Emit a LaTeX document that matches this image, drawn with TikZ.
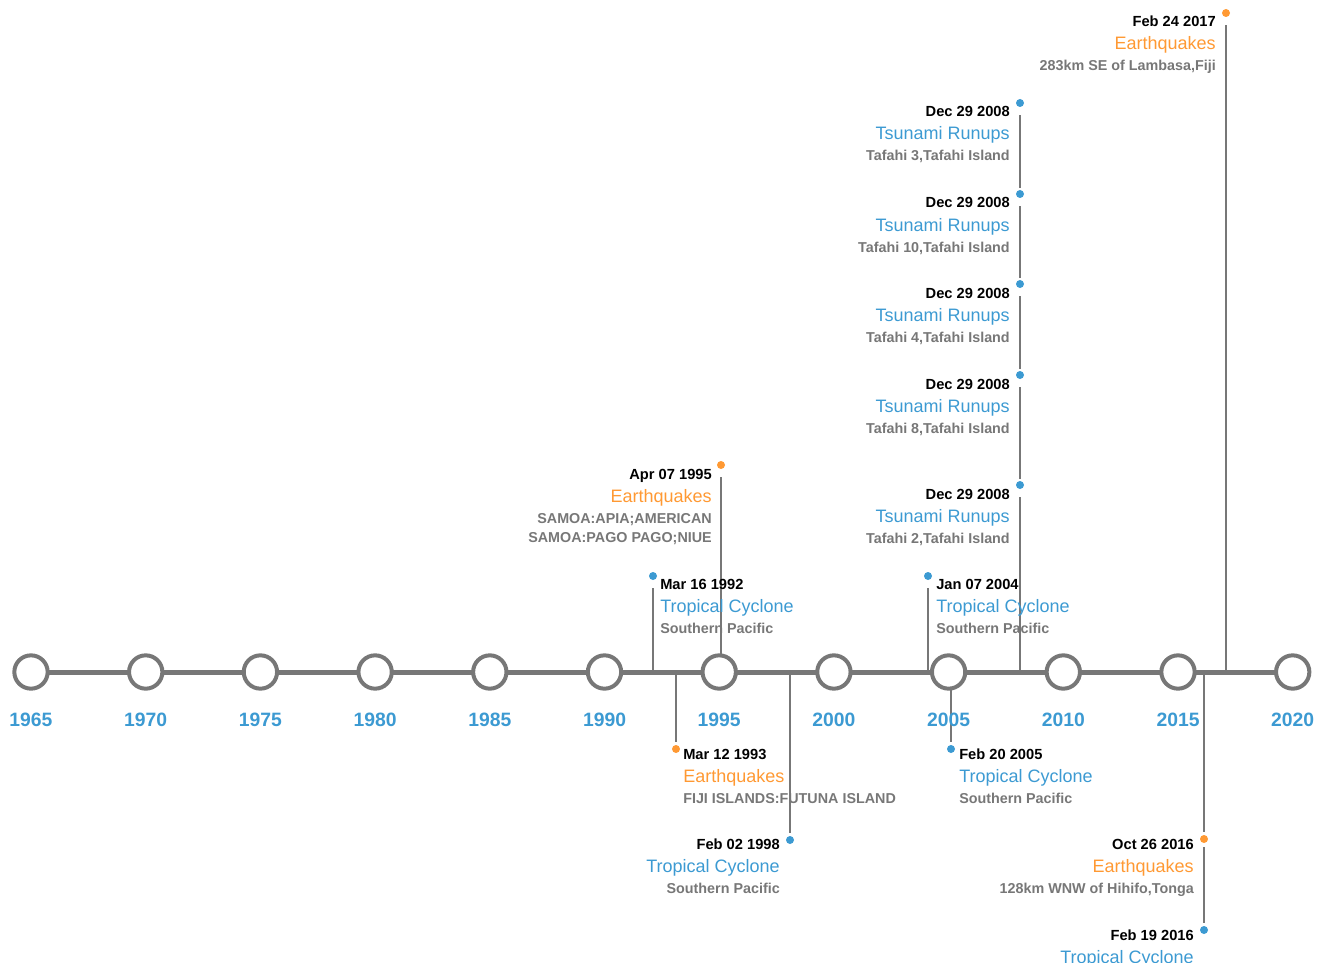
\documentclass[tikz,border=0pt]{standalone}
\usepackage{fontspec}
\setmainfont{Liberation Sans}
\usetikzlibrary{backgrounds}

\definecolor{grigio}{HTML}{777777}
\definecolor{blu}{HTML}{3C9AD2}
\definecolor{arancio}{HTML}{FF9933}

% evento: nome, x, base della data, lato (east/west), data, colore, titolo, luogo
\newcommand{\evento}[8]{%
	\node[data, anchor=base #4]             (#1d) at (#2,#3)    {#5};
	\node[titolo, text=#6, anchor=base #4]  (#1t) at (#2,#3+23) {#7};
	\node[sotto, anchor=base #4]            (#1s) at (#2,#3+44) {#8};
}

\begin{document}
\begin{tikzpicture}[x=0.75pt, y=-0.75pt]

%====Stili====================================================================

	\tikzstyle{tappa}=[circle, draw=grigio, line width=3pt, fill=white, minimum size=25pt, inner sep=0pt]
	\tikzstyle{asse}=[draw=grigio, line width=3.75pt]
	\tikzstyle{stelo}=[draw=grigio, line width=1.5pt]
	\tikzstyle{punto}=[circle, inner sep=0pt, minimum size=6pt]
	\tikzstyle{anno}=[font=\fontsize{14.5}{17}\selectfont\bfseries, text=blu]
	\tikzstyle{data}=[font=\fontsize{11}{13}\selectfont\bfseries, text=black, inner sep=0pt]
	\tikzstyle{titolo}=[font=\fontsize{13.5}{16}\selectfont, inner sep=0pt]
	\tikzstyle{sotto}=[font=\fontsize{10.75}{13}\selectfont\bfseries, text=grigio, inner sep=0pt]

	\useasboundingbox (0,0) rectangle (1317,963);

%====Asse degli anni===========================================================
	\foreach \a [count=\i from 0] in {1965,1970,...,2020}{
		\node[tappa] (y\a) at ({31+\i*114.7},672) {};
		\node[anno]  (l\a) at ({31+\i*114.7},720) {\a};
	}

%====Punti degli eventi========================================================
	\node[punto, fill=blu]     (r92) at (653,576)  {};
	\node[punto, fill=arancio] (e93) at (676,749)  {};
	\node[punto, fill=arancio] (e95) at (721,465)  {};
	\node[punto, fill=blu]     (c98) at (790,840)  {};
	\node[punto, fill=blu]     (c04) at (928,576)  {};
	\node[punto, fill=blu]     (c05) at (951,749)  {};
	\node[punto, fill=blu]     (t1)  at (1020,103) {};
	\node[punto, fill=blu]     (t2)  at (1020,194) {};
	\node[punto, fill=blu]     (t3)  at (1020,284) {};
	\node[punto, fill=blu]     (t4)  at (1020,375) {};
	\node[punto, fill=blu]     (t5)  at (1020,485) {};
	\node[punto, fill=arancio] (e16) at (1204,839) {};
	\node[punto, fill=blu]     (c16) at (1204,930) {};
	\node[punto, fill=arancio] (e17) at (1226,13)  {};

%====Steli e asse (sotto ai cerchi)============================================
	\begin{pgfonlayer}{background}
		\draw[stelo, shorten <=6pt]                 (r92) -- (r92 |- y1990);
		\draw[stelo, shorten >=2pt]                 (e93 |- y1990) -- (e93);
		\draw[stelo, shorten <=6pt]                 (e95) -- (e95 |- y1995);
		\draw[stelo, shorten >=2pt]                 (c98 |- y2000) -- (c98);
		\draw[stelo, shorten <=6pt]                 (c04) -- (c04 |- y2005);
		\draw[stelo, shorten >=2pt]                 (c05 |- y2005) -- (c05);
		\draw[stelo, shorten <=6pt, shorten >=1pt]  (t1) -- (t2);
		\draw[stelo, shorten <=6pt, shorten >=1pt]  (t2) -- (t3);
		\draw[stelo, shorten <=6pt, shorten >=1pt]  (t3) -- (t4);
		\draw[stelo, shorten <=6pt, shorten >=1pt]  (t4) -- (t5);
		\draw[stelo, shorten <=6pt]                 (t5) -- (t5 |- y2010);
		\draw[stelo, shorten >=2pt]                 (e16 |- y2015) -- (e16);
		\draw[stelo, shorten <=3pt, shorten >=2pt]  (e16) -- (c16);
		\draw[stelo, shorten <=6pt]                 (e17) -- (e17 |- y2020);
		\draw[asse] (y1965.center) -- (y2020.center);
	\end{pgfonlayer}

%====Testi degli eventi========================================================
	\evento{r92}{660}{589}{west}{Mar 16 1992}{blu}{Tropical Cyclone}{Southern Pacific}
	\evento{e93}{683}{759}{west}{Mar 12 1993}{arancio}{Earthquakes}{FIJI ISLANDS:FUTUNA ISLAND}
	\evento{e95}{712}{479}{east}{Apr 07 1995}{arancio}{Earthquakes}{SAMOA:APIA;AMERICAN}
	\node[sotto, anchor=base east] (e95s2) at (712,542) {SAMOA:PAGO PAGO;NIUE};
	\evento{c98}{780}{849}{east}{Feb 02 1998}{blu}{Tropical Cyclone}{Southern Pacific}
	\evento{c04}{936}{589}{west}{Jan 07 2004}{blu}{Tropical Cyclone}{Southern Pacific}
	\evento{c05}{959}{759}{west}{Feb 20 2005}{blu}{Tropical Cyclone}{Southern Pacific}
	\evento{t1}{1010}{117}{east}{Dec 29 2008}{blu}{Tsunami Runups}{Tafahi 3,Tafahi Island}
	\evento{t2}{1010}{208}{east}{Dec 29 2008}{blu}{Tsunami Runups}{Tafahi 10,Tafahi Island}
	\evento{t3}{1010}{298}{east}{Dec 29 2008}{blu}{Tsunami Runups}{Tafahi 4,Tafahi Island}
	\evento{t4}{1010}{389}{east}{Dec 29 2008}{blu}{Tsunami Runups}{Tafahi 8,Tafahi Island}
	\evento{t5}{1010}{499}{east}{Dec 29 2008}{blu}{Tsunami Runups}{Tafahi 2,Tafahi Island}
	\evento{e16}{1194}{849}{east}{Oct 26 2016}{arancio}{Earthquakes}{128km WNW of Hihifo,Tonga}
	\node[data, anchor=base east]              (c16d) at (1194,940) {Feb 19 2016};
	\node[titolo, text=blu, anchor=base east]  (c16t) at (1194,963) {Tropical Cyclone};
	\evento{e17}{1216}{27}{east}{Feb 24 2017}{arancio}{Earthquakes}{283km SE of Lambasa,Fiji}

\end{tikzpicture}
\end{document}
